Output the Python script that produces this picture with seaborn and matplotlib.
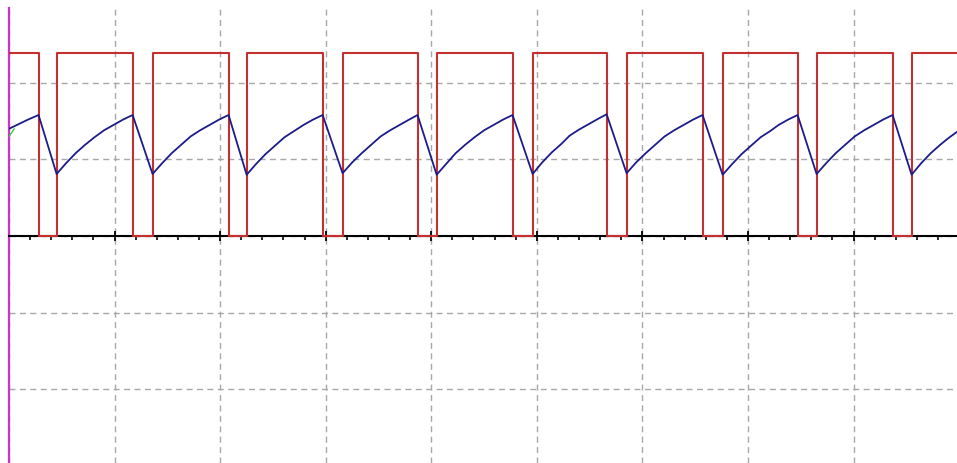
import numpy as np
import pandas as pd
import seaborn as sns

from matplotlib import pyplot as plt
from matplotlib.ticker import MultipleLocator


# time axis in screen divisions, levels in volts/div
# square wave (gate signal): edge times, starts high at t=0
gate_times = [0.0, 0.280, 0.451, 1.171, 1.360, 2.080, 2.251, 2.971, 3.160, 3.870,
              4.051, 4.770, 4.960, 5.661, 5.850, 6.570, 6.760, 7.470, 7.650, 8.370,
              8.550, 8.98]
gate_levels = [2.39, 0.0, 2.39, 0.0, 2.39, 0.0, 2.39, 0.0, 2.39, 0.0,
               2.39, 0.0, 2.39, 0.0, 2.39, 0.0, 2.39, 0.0, 2.39, 0.0,
               2.39, 2.39]

# capacitor voltage trace (blue), one charging ramp per line
cap_times = [0.0, 0.09, 0.18, 0.280,
             0.451, 0.54, 0.63, 0.72, 0.81, 0.90, 0.99, 1.08, 1.171,
             1.360, 1.45, 1.54, 1.63, 1.72, 1.81, 1.90, 1.99, 2.080,
             2.251, 2.34, 2.43, 2.52, 2.61, 2.70, 2.79, 2.88, 2.971,
             3.160, 3.25, 3.34, 3.43, 3.52, 3.61, 3.70, 3.79, 3.870,
             4.051, 4.14, 4.23, 4.32, 4.41, 4.50, 4.59, 4.68, 4.770,
             4.960, 5.05, 5.14, 5.23, 5.31, 5.40, 5.49, 5.58, 5.661,
             5.850, 5.94, 6.03, 6.12, 6.21, 6.30, 6.39, 6.48, 6.570,
             6.760, 6.85, 6.94, 7.03, 7.12, 7.21, 7.29, 7.38, 7.470,
             7.650, 7.74, 7.83, 7.92, 8.01, 8.10, 8.19, 8.28, 8.370,
             8.550, 8.64, 8.73, 8.82, 8.90, 8.98]
cap_volts = [1.40, 1.46, 1.52, 1.58,
             0.81, 0.95, 1.08, 1.19, 1.29, 1.38, 1.45, 1.52, 1.58,
             0.81, 0.95, 1.08, 1.19, 1.30, 1.38, 1.45, 1.52, 1.58,
             0.80, 0.94, 1.07, 1.18, 1.29, 1.37, 1.45, 1.52, 1.58,
             0.82, 0.96, 1.08, 1.19, 1.30, 1.38, 1.45, 1.52, 1.58,
             0.80, 0.94, 1.08, 1.19, 1.29, 1.38, 1.45, 1.52, 1.58,
             0.81, 0.96, 1.09, 1.20, 1.31, 1.39, 1.46, 1.53, 1.59,
             0.82, 0.96, 1.08, 1.19, 1.30, 1.38, 1.45, 1.52, 1.58,
             0.80, 0.94, 1.07, 1.18, 1.29, 1.37, 1.45, 1.52, 1.58,
             0.81, 0.95, 1.08, 1.19, 1.30, 1.38, 1.45, 1.52, 1.58,
             0.80, 0.95, 1.08, 1.19, 1.28, 1.36]

# trigger marker at the left edge
trig_times = [0.0, 0.05]
trig_volts = [1.30, 1.40]

sns.set_style("white")

gate = pd.DataFrame({"t": gate_times, "v": gate_levels})
cap = pd.DataFrame({"t": cap_times, "v": cap_volts})

fig = plt.figure(figsize=(9.57, 4.64), dpi=100)
ax = fig.add_axes([9 / 957, 0, 948 / 957, 455 / 464])

sns.lineplot(data=gate, x="t", y="v", ax=ax, color="#c62f2f", linewidth=1.5,
             drawstyle="steps-post", sort=False, estimator=None, zorder=3)
sns.lineplot(data=cap, x="t", y="v", ax=ax, color="#1c1c8a", linewidth=1.3,
             sort=False, estimator=None, zorder=4)
ax.plot(trig_times, trig_volts, color="#33cc33", linewidth=1.0, zorder=5)

ax.set_xlim(0, 8.98)
ax.set_ylim(-2.963, 2.977)

# scope graticule
ax.xaxis.set_major_locator(MultipleLocator(1))
ax.xaxis.set_minor_locator(MultipleLocator(0.2))
ax.yaxis.set_major_locator(MultipleLocator(1))
ax.grid(True, which="major", color="#a8a8a8", linestyle=(0, (4.3, 3.2)), linewidth=1.0)
ax.set_axisbelow(True)

ax.spines["bottom"].set_position(("data", 0))
ax.spines["bottom"].set_color("black")
ax.spines["bottom"].set_linewidth(1.5)
ax.spines["left"].set_color("#cc33cc")
ax.spines["left"].set_linewidth(1.6)
ax.spines["top"].set_visible(False)
ax.spines["right"].set_visible(False)

ax.tick_params(axis="x", which="major", direction="inout", length=7, width=1.3,
               color="black", labelbottom=False, bottom=True)
ax.tick_params(axis="x", which="minor", direction="out", length=3, width=1.2,
               color="black", bottom=True)
ax.tick_params(axis="y", which="both", length=0, labelleft=False)
ax.set_xlabel("")
ax.set_ylabel("")

fig.savefig("out.png", dpi=100)
